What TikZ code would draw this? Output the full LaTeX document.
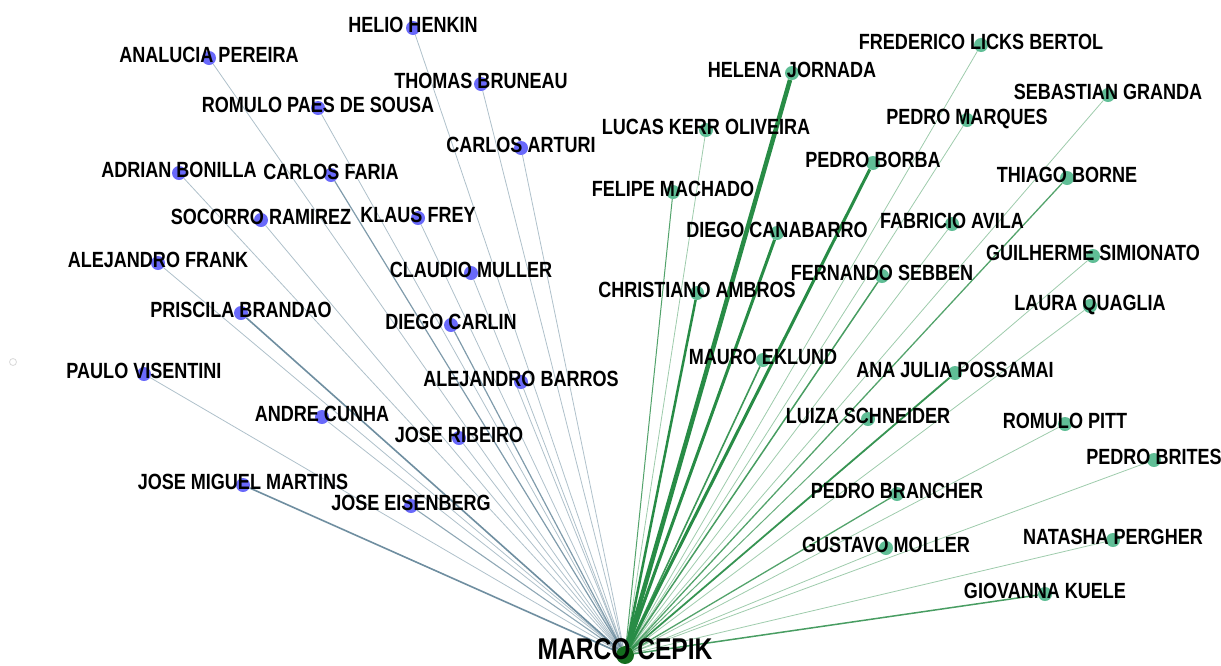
\documentclass[tikz,border=0pt]{standalone}
\usepackage{fontspec}
\newfontfamily\lblfont[FakeStretch=0.82]{Liberation Sans Bold}
\usepackage{tikz}
\usetikzlibrary{positioning}
\pgfdeclarelayer{background}
\pgfsetlayers{background,main}
\definecolor{dotblue}{RGB}{105,105,250}
\definecolor{dotgreen}{RGB}{96,190,150}
\definecolor{egoGreen}{RGB}{20,110,30}
\definecolor{edgegray}{RGB}{95,130,150}
\definecolor{edgegreen}{RGB}{40,140,70}
\tikzstyle{bluedot} = [circle, fill=dotblue, inner sep=0pt, minimum size=14pt]
\tikzstyle{greendot} = [circle, fill=dotgreen, inner sep=0pt, minimum size=14pt]
\tikzstyle{egodot} = [circle, fill=egoGreen, inner sep=0pt, minimum size=18pt]
\tikzstyle{lbl} = [font=\lblfont\fontsize{22}{22}\selectfont, anchor=base, yshift=-4pt, inner sep=0pt]
\tikzstyle{grayedge} = [draw=edgegray, line width=0.8pt, opacity=0.5]
\tikzstyle{greenedge} = [draw=edgegreen, line width=0.8pt, opacity=0.45]

\begin{document}
\begin{tikzpicture}[x=1pt, y=-1pt]
        \useasboundingbox (0,0) rectangle (1221,665);
        % left group
        \node[bluedot] (hh) at (413,28) {};
        \node[bluedot] (ap) at (209,58) {};
        \node[bluedot] (tb) at (481,84) {};
        \node[bluedot] (rps) at (318,108) {};
        \node[bluedot] (ca) at (521,148) {};
        \node[bluedot] (ab) at (179,173) {};
        \node[bluedot] (cf) at (331,175) {};
        \node[bluedot] (sr) at (261,220) {};
        \node[bluedot] (kf) at (418,218) {};
        \node[bluedot] (af) at (158,263) {};
        \node[bluedot] (cm) at (471,273) {};
        \node[bluedot] (pb) at (241,313) {};
        \node[bluedot] (dc) at (451,325) {};
        \node[bluedot] (pv) at (144,374) {};
        \node[bluedot] (abr) at (521,382) {};
        \node[bluedot] (ac) at (322,417) {};
        \node[bluedot] (jr) at (459,438) {};
        \node[bluedot] (jmm) at (243,485) {};
        \node[bluedot] (je) at (411,506) {};
        % right group
        \node[greendot] (flb) at (981,45) {};
        \node[greendot] (hj) at (792,73) {};
        \node[greendot] (sg) at (1108,95) {};
        \node[greendot] (pm) at (967,120) {};
        \node[greendot] (lko) at (706,130) {};
        \node[greendot] (pbo) at (873,163) {};
        \node[greendot] (tbo) at (1067,178) {};
        \node[greendot] (fm) at (673,192) {};
        \node[greendot] (fa) at (952,224) {};
        \node[greendot] (dca) at (777,233) {};
        \node[greendot] (gs) at (1093,256) {};
        \node[greendot] (fs) at (882,276) {};
        \node[greendot] (cam) at (697,293) {};
        \node[greendot] (lq) at (1090,306) {};
        \node[greendot] (me) at (763,360) {};
        \node[greendot] (ajp) at (955,373) {};
        \node[greendot] (ls) at (868,419) {};
        \node[greendot] (rp) at (1065,424) {};
        \node[greendot] (pbr) at (1154,460) {};
        \node[greendot] (pbc) at (897,494) {};
        \node[greendot] (gm) at (886,548) {};
        \node[greendot] (np) at (1113,540) {};
        \node[greendot] (gk) at (1045,594) {};
        \node[egodot] (mc) at (625,655) {};
        \node[circle, draw=black!15, line width=0.8pt, inner sep=0pt, minimum size=7pt] (stray) at (13,362) {};

        \begin{pgfonlayer}{background}
        \draw[grayedge] (mc) -- (hh);
        \draw[grayedge] (mc) -- (ap);
        \draw[grayedge] (mc) -- (tb);
        \draw[grayedge] (mc) -- (rps);
        \draw[grayedge] (mc) -- (ca);
        \draw[grayedge] (mc) -- (ab);
        \draw[grayedge, line width=1.2pt, opacity=0.8] (mc) -- (cf);
        \draw[grayedge] (mc) -- (sr);
        \draw[grayedge] (mc) -- (kf);
        \draw[grayedge] (mc) -- (af);
        \draw[grayedge] (mc) -- (cm);
        \draw[grayedge, line width=1.6pt, opacity=0.9] (mc) -- (pb);
        \draw[grayedge, line width=1.2pt, opacity=0.8] (mc) -- (dc);
        \draw[grayedge] (mc) -- (pv);
        \draw[grayedge] (mc) -- (abr);
        \draw[grayedge] (mc) -- (ac);
        \draw[grayedge] (mc) -- (jr);
        \draw[grayedge, line width=1.6pt, opacity=0.9] (mc) -- (jmm);
        \draw[grayedge, line width=1.1pt, opacity=0.7] (mc) -- (je);
        \draw[greenedge] (mc) -- (flb);
        \draw[greenedge, line width=4.5pt, opacity=1] (mc) -- (hj);
        \draw[greenedge] (mc) -- (sg);
        \draw[greenedge] (mc) -- (pm);
        \draw[greenedge] (mc) -- (lko);
        \draw[greenedge, line width=3pt, opacity=1] (mc) -- (pbo);
        \draw[greenedge, line width=1.3pt, opacity=0.8] (mc) -- (tbo);
        \draw[greenedge, line width=1pt, opacity=0.8] (mc) -- (fm);
        \draw[greenedge] (mc) -- (fa);
        \draw[greenedge, line width=3pt, opacity=1] (mc) -- (dca);
        \draw[greenedge] (mc) -- (gs);
        \draw[greenedge, line width=1.5pt, opacity=0.85] (mc) -- (fs);
        \draw[greenedge, line width=2.5pt, opacity=1] (mc) -- (cam);
        \draw[greenedge] (mc) -- (lq);
        \draw[greenedge, line width=1.6pt, opacity=0.9] (mc) -- (me);
        \draw[greenedge, line width=1.8pt, opacity=0.9] (mc) -- (ajp);
        \draw[greenedge, line width=1pt, opacity=0.7] (mc) -- (ls);
        \draw[greenedge] (mc) -- (rp);
        \draw[greenedge] (mc) -- (pbr);
        \draw[greenedge, line width=1.3pt, opacity=0.8] (mc) -- (pbc);
        \draw[greenedge] (mc) -- (gm);
        \draw[greenedge] (mc) -- (np);
        \draw[greenedge, line width=1.5pt, opacity=0.85] (mc) -- (gk);
        \end{pgfonlayer}

        % names
        \node[lbl] (hh-l) at (hh) {HELIO HENKIN};
        \node[lbl] (ap-l) at (ap) {ANALUCIA PEREIRA};
        \node[lbl] (tb-l) at (tb) {THOMAS BRUNEAU};
        \node[lbl] (rps-l) at (rps) {ROMULO PAES DE SOUSA};
        \node[lbl] (ca-l) at (ca) {CARLOS ARTURI};
        \node[lbl] (ab-l) at (ab) {ADRIAN BONILLA};
        \node[lbl] (cf-l) at (cf) {CARLOS FARIA};
        \node[lbl] (sr-l) at (sr) {SOCORRO RAMIREZ};
        \node[lbl] (kf-l) at (kf) {KLAUS FREY};
        \node[lbl] (af-l) at (af) {ALEJANDRO FRANK};
        \node[lbl] (cm-l) at (cm) {CLAUDIO MULLER};
        \node[lbl] (pb-l) at (pb) {PRISCILA BRANDAO};
        \node[lbl] (dc-l) at (dc) {DIEGO CARLIN};
        \node[lbl] (pv-l) at (pv) {PAULO VISENTINI};
        \node[lbl] (abr-l) at (abr) {ALEJANDRO BARROS};
        \node[lbl] (ac-l) at (ac) {ANDRE CUNHA};
        \node[lbl] (jr-l) at (jr) {JOSE RIBEIRO};
        \node[lbl] (jmm-l) at (jmm) {JOSE MIGUEL MARTINS};
        \node[lbl] (je-l) at (je) {JOSE EISENBERG};
        \node[lbl] (flb-l) at (flb) {FREDERICO LICKS BERTOL};
        \node[lbl] (hj-l) at (hj) {HELENA JORNADA};
        \node[lbl] (sg-l) at (sg) {SEBASTIAN GRANDA};
        \node[lbl] (pm-l) at (pm) {PEDRO MARQUES};
        \node[lbl] (lko-l) at (lko) {LUCAS KERR OLIVEIRA};
        \node[lbl] (pbo-l) at (pbo) {PEDRO BORBA};
        \node[lbl] (tbo-l) at (tbo) {THIAGO BORNE};
        \node[lbl] (fm-l) at (fm) {FELIPE MACHADO};
        \node[lbl] (fa-l) at (fa) {FABRICIO AVILA};
        \node[lbl] (dca-l) at (dca) {DIEGO CANABARRO};
        \node[lbl] (gs-l) at (gs) {GUILHERME SIMIONATO};
        \node[lbl] (fs-l) at (fs) {FERNANDO SEBBEN};
        \node[lbl] (cam-l) at (cam) {CHRISTIANO AMBROS};
        \node[lbl] (lq-l) at (lq) {LAURA QUAGLIA};
        \node[lbl] (me-l) at (me) {MAURO EKLUND};
        \node[lbl] (ajp-l) at (ajp) {ANA JULIA POSSAMAI};
        \node[lbl] (ls-l) at (ls) {LUIZA SCHNEIDER};
        \node[lbl] (rp-l) at (rp) {ROMULO PITT};
        \node[lbl] (pbr-l) at (pbr) {PEDRO BRITES};
        \node[lbl] (pbc-l) at (pbc) {PEDRO BRANCHER};
        \node[lbl] (gm-l) at (gm) {GUSTAVO MOLLER};
        \node[lbl] (np-l) at (np) {NATASHA PERGHER};
        \node[lbl] (gk-l) at (gk) {GIOVANNA KUELE};
        \node[lbl, font=\lblfont\fontsize{30}{30}\selectfont] (mc-l) at (mc) {MARCO CEPIK};
\end{tikzpicture}
\end{document}
